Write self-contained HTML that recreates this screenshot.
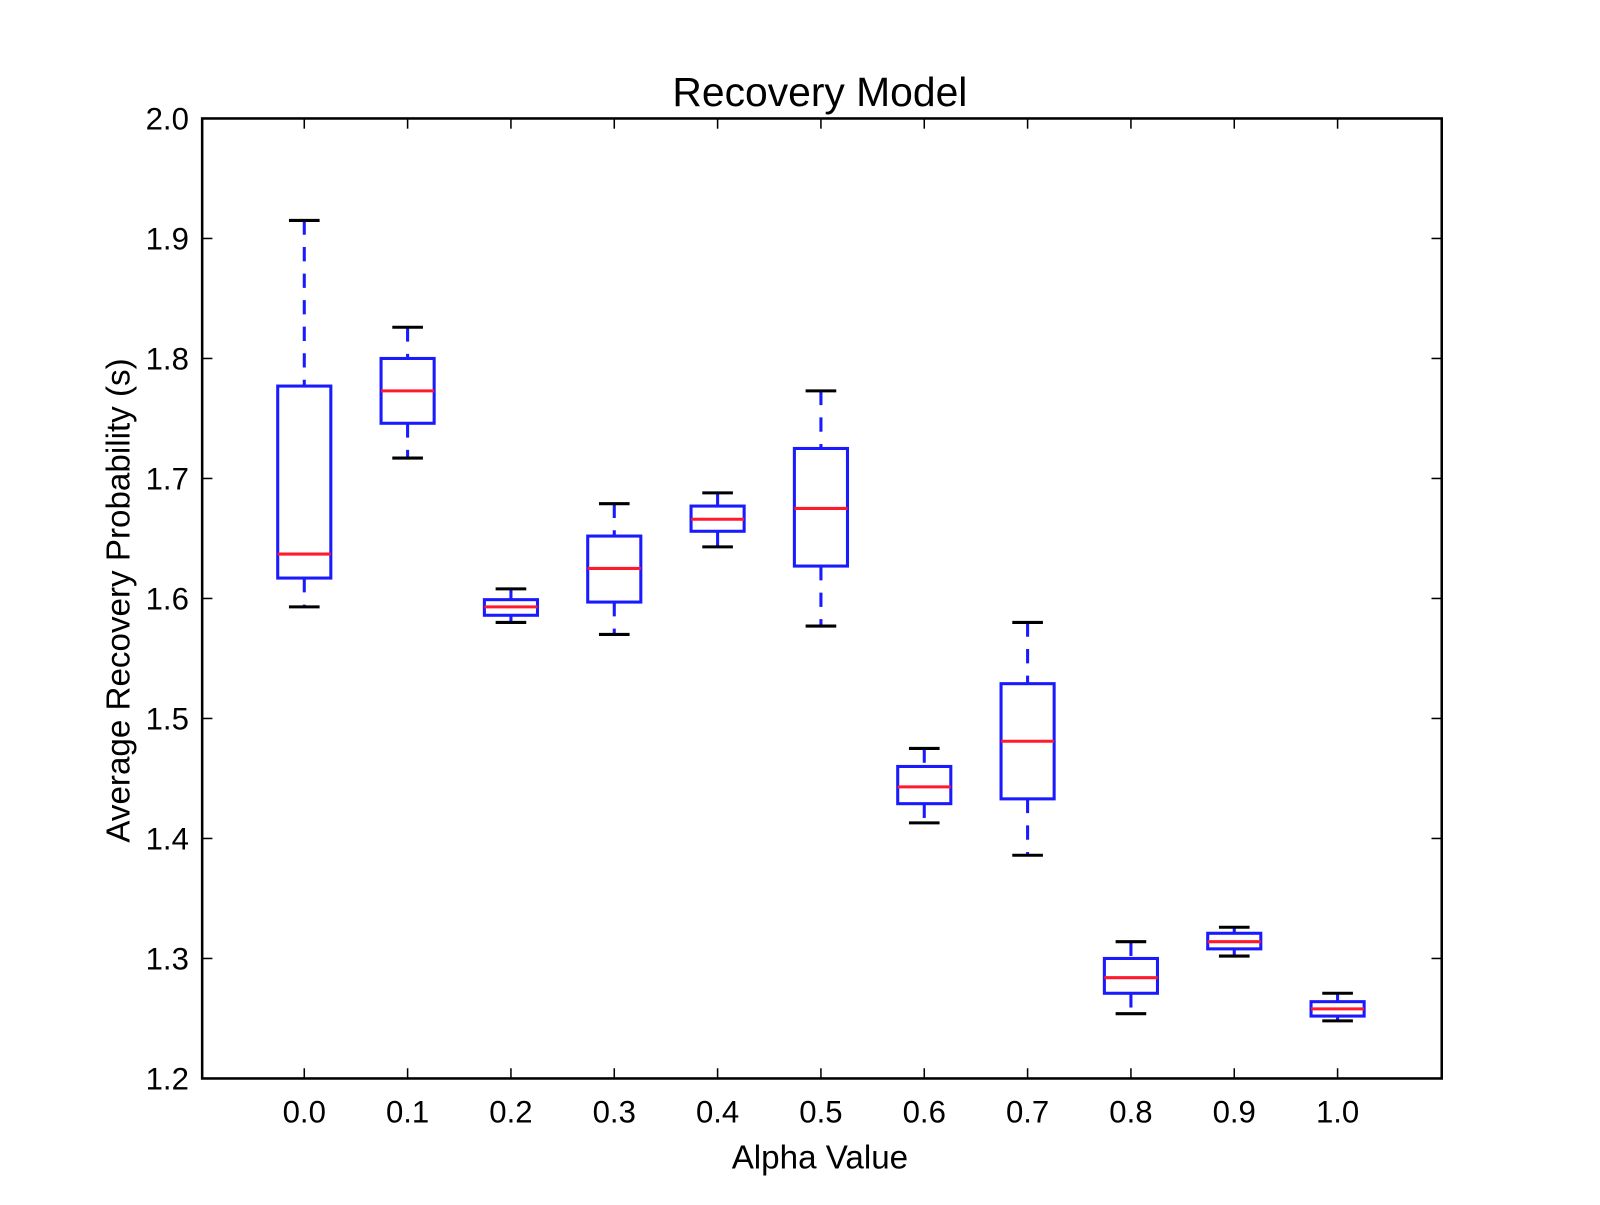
<!DOCTYPE html>
<html><head><meta charset="utf-8"><style>
html,body{margin:0;padding:0;background:#fff;}
svg text{font-family:"Liberation Sans",Arial,sans-serif;fill:#000;}
</style></head><body>
<svg id="chart" width="1600" height="1200" viewBox="0 0 1567 1175" preserveAspectRatio="none" xmlns="http://www.w3.org/2000/svg">
<text x="803" y="104" font-size="40" text-anchor="middle">Recovery Model</text>
<text x="803" y="1144" font-size="32.5" text-anchor="middle">Alpha Value</text>
<text transform="translate(127,588) rotate(-90)" font-size="32.5" text-anchor="middle">Average Recovery Probability (s)</text>
<g id="marks"></g>
<rect x="198" y="116" width="1214" height="940" fill="none" stroke="#000" stroke-width="2.5"/>
</svg>
<script>
const categories = ["0.0","0.1","0.2","0.3","0.4","0.5","0.6","0.7","0.8","0.9","1.0"];
const whiskerHigh = [1.915,1.826,1.608,1.679,1.688,1.773,1.475,1.580,1.314,1.326,1.271];
const q3Values =    [1.777,1.800,1.599,1.652,1.677,1.725,1.460,1.529,1.300,1.321,1.264];
const medians =     [1.637,1.773,1.593,1.625,1.666,1.675,1.443,1.481,1.284,1.314,1.258];
const q1Values =    [1.617,1.746,1.586,1.597,1.656,1.627,1.429,1.433,1.271,1.308,1.252];
const whiskerLow =  [1.593,1.717,1.580,1.570,1.643,1.577,1.413,1.386,1.254,1.302,1.248];
const yTicks = [1.2,1.3,1.4,1.5,1.6,1.7,1.8,1.9,2.0];
const yTickLabels = ["1.2","1.3","1.4","1.5","1.6","1.7","1.8","1.9","2.0"];

const NS="http://www.w3.org/2000/svg";
const L=198,R=1412,T=116,B=1056;
function yS(v){return B-(v-1.2)/(2.0-1.2)*(B-T);}
function xS(i){return 298+i*(1310-298)/(categories.length-1);}
const g=document.getElementById('marks');
function mk(tag,attrs){const e=document.createElementNS(NS,tag);for(const k in attrs)e.setAttribute(k,attrs[k]);g.appendChild(e);return e;}

yTicks.forEach((v,i)=>{
  const y=yS(v);
  const t1=mk('line',{x1:L,x2:L+10,y1:y,y2:y,stroke:'#000','stroke-width':1.5});
  
  
  const t2=mk('line',{x1:R-10,x2:R,y1:y,y2:y,stroke:'#000','stroke-width':1.5});
  
  
  const tx=mk('text',{x:L-13,y:y+11,'font-size':30.5,'text-anchor':'end'});
  tx.textContent=yTickLabels[i];
  
  
});
categories.forEach((c,i)=>{
  const x=xS(i);
  const t1=mk('line',{x1:x,x2:x,y1:B-10,y2:B,stroke:'#000','stroke-width':1.5});
  
  
  const t2=mk('line',{x1:x,x2:x,y1:T,y2:T+10,stroke:'#000','stroke-width':1.5});
  
  
  const tx=mk('text',{x:x,y:B+43,'font-size':30.5,'text-anchor':'middle'});
  tx.textContent=c;
  
  

  const hw=26, cw=15;
  const w1=mk('line',{x1:x,x2:x,y1:yS(whiskerHigh[i]),y2:yS(q3Values[i]),stroke:'#1a1aff','stroke-width':3,'stroke-dasharray':'14 12'});
  
  
  const w2=mk('line',{x1:x,x2:x,y1:yS(q1Values[i]),y2:yS(whiskerLow[i]),stroke:'#1a1aff','stroke-width':3,'stroke-dasharray':'14 12'});
  
  
  const c1=mk('line',{x1:x-cw,x2:x+cw,y1:yS(whiskerHigh[i]),y2:yS(whiskerHigh[i]),stroke:'#000','stroke-width':3});
  
  
  const c2=mk('line',{x1:x-cw,x2:x+cw,y1:yS(whiskerLow[i]),y2:yS(whiskerLow[i]),stroke:'#000','stroke-width':3});
  
  
  const yt=yS(q3Values[i]), yb=yS(q1Values[i]);
  const bx=mk('rect',{x:x-hw,y:yt,width:2*hw,height:yb-yt,fill:'none',stroke:'#1a1aff','stroke-width':3});
  
  
  const md=mk('line',{x1:x-hw,x2:x+hw,y1:yS(medians[i]),y2:yS(medians[i]),stroke:'#ff1a2e','stroke-width':3});
  
  
});
</script>
</body></html>
